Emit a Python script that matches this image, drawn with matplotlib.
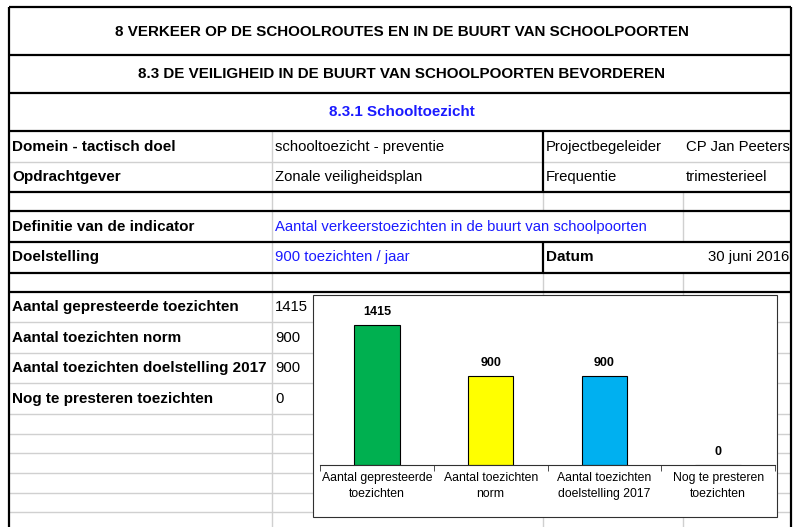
import matplotlib
matplotlib.use("Agg")
import matplotlib.pyplot as plt
from matplotlib.patches import Rectangle

plt.rcParams['font.family'] = ['Liberation Sans', 'DejaVu Sans']

# chart data
categories = ["Aantal gepresteerde\ntoezichten", "Aantal toezichten\nnorm",
              "Aantal toezichten\ndoelstelling 2017", "Nog te presteren\ntoezichten"]
values = [1415, 900, 900, 0]
bar_colors = ["#00B050", "#FFFF00", "#00B0F0", "#FFFFFF"]

# sheet text
titles = ["8 VERKEER OP DE SCHOOLROUTES EN IN DE BUURT VAN SCHOOLPOORTEN",
          "8.3 DE VEILIGHEID IN DE BUURT VAN SCHOOLPOORTEN BEVORDEREN",
          "8.3.1 Schooltoezicht"]
row_labels = ["Aantal gepresteerde toezichten", "Aantal toezichten norm",
              "Aantal toezichten doelstelling 2017", "Nog te presteren toezichten"]

W, H = 795, 527
fig = plt.figure(figsize=(W / 100, H / 100), dpi=100)
base = fig.add_axes([0, 0, 1, 1])
base.set_xlim(0, W)
base.set_ylim(H, 0)
base.axis('off')

GRID = "#d0d0d0"
L, R = 9, 791
c1, c2, c3 = 272, 543, 683


def hline(y, x0=L, x1=R, thick=False):
    base.plot([x0, x1], [y, y], color="black" if thick else GRID,
              lw=1.6 if thick else 1.0, zorder=3 if thick else 1,
              solid_capstyle='butt')


def vline(x, y0, y1, thick=False):
    base.plot([x, x], [y0, y1], color="black" if thick else GRID,
              lw=1.6 if thick else 1.0, zorder=3 if thick else 1,
              solid_capstyle='butt')


# gridlines lower area
grid_rows = [162, 322, 353, 383, 414, 434, 453, 473, 493, 512]
for y in grid_rows:
    hline(y)
vline(c1, 131, H)
vline(c2, 192, 211)
vline(c3, 192, 242)
vline(c2, 273, H)
vline(c3, 273, H)

# thick borders
for y in [7, 55, 93, 131, 192, 211, 242, 273, 292]:
    hline(y, thick=True)
vline(L, 7, H, thick=True)
vline(R, 7, H, thick=True)
vline(c2, 131, 192, thick=True)
vline(c2, 242, 273, thick=True)

# titles
tfs = 10.9
base.text(402, 32, titles[0], ha='center', va='center', fontsize=tfs, fontweight='bold')
base.text(402, 74, titles[1], ha='center', va='center', fontsize=tfs, fontweight='bold')
base.text(402, 112, titles[2], ha='center', va='center', fontsize=tfs,
          fontweight='bold', color='#1a1aff')

fs = 10.7
bfs = 11
tx = [12, 275, 546, 686]
base.text(tx[0], 147, "Domein - tactisch doel", va='center', fontsize=bfs, fontweight='bold')
base.text(tx[1], 147, "schooltoezicht - preventie", va='center', fontsize=fs)
base.text(tx[2], 147, "Projectbegeleider", va='center', fontsize=fs)
base.text(tx[3], 147, "CP Jan Peeters", va='center', fontsize=fs)
base.text(tx[0], 177, "Opdrachtgever", va='center', fontsize=bfs, fontweight='bold')
base.text(tx[1], 177, "Zonale veiligheidsplan", va='center', fontsize=fs)
base.text(tx[2], 177, "Frequentie", va='center', fontsize=fs)
base.text(tx[3], 177, "trimesterieel", va='center', fontsize=fs)
base.text(tx[0], 227, "Definitie van de indicator", va='center', fontsize=bfs, fontweight='bold')
base.text(tx[1], 227, "Aantal verkeerstoezichten in de buurt van schoolpoorten",
          va='center', fontsize=fs, color='#1a1aff')
base.text(tx[0], 257, "Doelstelling", va='center', fontsize=bfs, fontweight='bold')
base.text(tx[1], 257, "900 toezichten / jaar", va='center', fontsize=fs, color='#1a1aff')
base.text(tx[2], 257, "Datum", va='center', fontsize=bfs, fontweight='bold')
base.text(789, 257, "30 juni 2016", va='center', ha='right', fontsize=fs)

for i, (lab, v) in enumerate(zip(row_labels, values)):
    y = 307 + i * 30.7
    base.text(tx[0], y, lab, va='center', fontsize=bfs, fontweight='bold')
    base.text(tx[1], y, str(v), va='center', fontsize=fs)

# chart frame
base.add_patch(Rectangle((313, 295), 464, 222, facecolor='white',
                         edgecolor='#303030', lw=0.8, zorder=5))

ax = fig.add_axes([320 / W, (H - 465) / H, 455 / W, 165 / H])
ax.set_zorder(6)
ax.patch.set_alpha(0)
x = range(len(values))
bars = ax.bar(x, values, width=0.4, color=bar_colors, edgecolor='black', linewidth=0.8)
for xi, v in zip(x, values):
    ax.annotate(str(v), (xi, v), xytext=(0, 5), textcoords='offset points',
                ha='center', va='bottom', fontsize=9, fontweight='bold')
ax.set_xlim(-0.5, len(values) - 0.5)
ax.set_ylim(0, max(values) * 1.18)
ax.set_xticks(list(x))
ax.set_xticklabels(categories, fontsize=8.8, linespacing=1.45)
ax.tick_params(axis='x', which='major', length=0, pad=5)
ax.set_xticks([i - 0.5 for i in range(len(values) + 1)], minor=True)
ax.tick_params(axis='x', which='minor', length=4, direction='out', color='#303030')
ax.set_yticks([])
for s in ['top', 'left', 'right']:
    ax.spines[s].set_visible(False)
ax.spines['bottom'].set_color('#303030')

fig.savefig("out.png", dpi=100)
